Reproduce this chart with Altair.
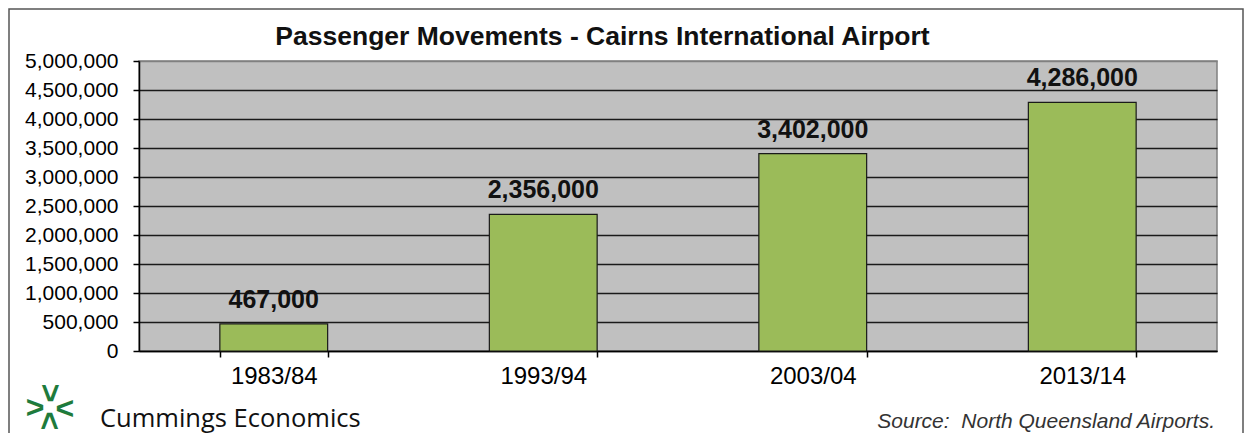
import altair as alt
import pandas as pd

# ---- data ----
years = ["1983/84", "1993/94", "2003/04", "2013/14"]
passengers = [467000, 2356000, 3402000, 4286000]
y_tick_values = [0, 500000, 1000000, 1500000, 2000000, 2500000,
                 3000000, 3500000, 4000000, 4500000, 5000000]
title_text = "Passenger Movements - Cairns International Airport"
brand_text = "Cummings Economics"
source_text = "Source:\u00a0 North Queensland Airports."

df = pd.DataFrame({"year": years, "passengers": passengers})
one = alt.Data(values=[{"k": 1}])

FONT = "Liberation Sans"
GREEN = "#1E7B3C"

x_enc = alt.X(
    "year:N", sort=years, title=None,
    scale=alt.Scale(paddingInner=0.6, paddingOuter=0.3),
    axis=alt.Axis(labelAngle=0, labelFontSize=24, labelFont=FONT,
                  labelColor="black", tickBand="extent", tickSize=6,
                  labelPadding=7, domainColor="black", tickColor="black",
                  domainWidth=1.5, tickWidth=1.5, grid=False),
)
y_enc = alt.Y(
    "passengers:Q", title=None,
    scale=alt.Scale(domain=[0, 5000000], nice=False),
    axis=alt.Axis(values=y_tick_values, format=",d", labelFontSize=21,
                  labelFont=FONT, labelColor="black", tickSize=6,
                  labelPadding=15, domainColor="black", tickColor="black",
                  domainWidth=1.5, tickWidth=1.5,
                  gridColor={"condition": {"test": "datum.value === 5000000",
                                           "value": "#808080"},
                             "value": "#1a1a1a"},
                  gridWidth=1.3),
)

bars = alt.Chart(df).mark_bar(color="#9BBB59", stroke="#1a1a1a",
                              strokeWidth=1.2).encode(x=x_enc, y=y_enc)

labels = alt.Chart(df).mark_text(
    font=FONT, fontSize=25, fontWeight="bold", color="#111",
    baseline="alphabetic", dy=-16,
).encode(x=x_enc, y=y_enc, text=alt.Text("passengers:Q", format=","))

title = alt.Chart(one).mark_text(
    font=FONT, fontSize=26.5, fontWeight="bold", color="#111",
    align="center", baseline="alphabetic",
).encode(x=alt.value(463.5), y=alt.value(-16), text=alt.value(title_text))

frame = alt.Chart(one).mark_rect(
    fill=None, stroke="#555", strokeWidth=1.5, filled=False
).encode(x=alt.value(-130), x2=alt.value(1104), y=alt.value(-52), y2=alt.value(420))

logo_specs = [(-104, 347, 0), (-74, 347, 180), (-89, 332, 90), (-89, 360, 270)]
logo_layers = [
    alt.Chart(one).mark_text(
        font=FONT, fontSize=32, fontWeight="bold", color=GREEN,
        align="center", baseline="middle", angle=ang,
    ).encode(x=alt.value(lx), y=alt.value(ly), text=alt.value(">"))
    for lx, ly, ang in logo_specs
]

brand = alt.Chart(one).mark_text(
    font="Open Sans", fontSize=25.5, color="#111", align="left",
    baseline="alphabetic",
).encode(x=alt.value(-39), y=alt.value(366), text=alt.value(brand_text))

source = alt.Chart(one).mark_text(
    font=FONT, fontSize=21, fontStyle="italic", color="#333", align="right",
    baseline="alphabetic",
).encode(x=alt.value(1076), y=alt.value(367), text=alt.value(source_text))

chart = alt.layer(bars, labels, title, frame, brand, source, *logo_layers).properties(
    width=1078, height=290,
    autosize=alt.AutoSizeParams(type="none"),
    padding={"left": 131, "top": 53, "right": 27, "bottom": 82},
    background="white",
).configure_view(stroke="#808080", strokeWidth=1.5, fill="#C0C0C0")

chart.save("out.html", embed_options={"renderer": "svg", "actions": False})
